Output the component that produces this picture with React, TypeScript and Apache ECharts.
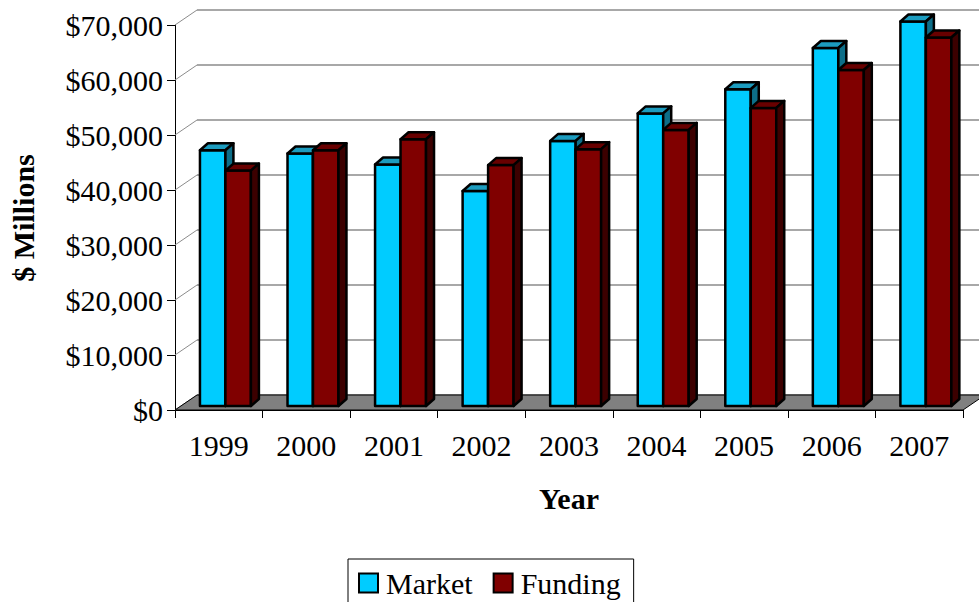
import React, { useEffect, useRef } from "react";
import * as echarts from "echarts";

const years = ["1999", "2000", "2001", "2002", "2003", "2004", "2005", "2006", "2007"];
const market = [46500, 45900, 43900, 39100, 48200, 53200, 57600, 65100, 69900];
const funding = [42800, 46500, 48500, 43800, 46700, 50200, 54200, 61100, 67000];
const yTicks = [0, 10000, 20000, 30000, 40000, 50000, 60000, 70000];

const FONT = "Liberation Serif";

// depth offsets (px)
const WALL_DX = 22;
const WALL_DY = -15;
const BAR_DX = 8;
const BAR_DY = -7;
const BAR_SHIFT_Y = -4;

function makeBarRender(offFrac: number, widthFrac: number, front: string, top: string, side: string) {
  return (params: any, api: any) => {
    const idx = api.value(0);
    const v = api.value(1);
    const p = api.coord([idx, v]);
    const b = api.coord([idx, 0]);
    const band = api.size([1, 0])[0];
    const left = b[0] - band / 2 + band * offFrac;
    const w = band * widthFrac;
    const yb = b[1] + BAR_SHIFT_Y;
    const yt = p[1] + BAR_SHIFT_Y;
    const st = { stroke: "#000", lineWidth: 2.5, lineJoin: "round" };
    return {
      type: "group",
      children: [
        {
          type: "polygon",
          shape: { points: [[left, yt], [left + w, yt], [left + w, yb], [left, yb]] },
          style: { fill: front, ...st },
        },
        {
          type: "polygon",
          shape: {
            points: [
              [left, yt],
              [left + BAR_DX, yt + BAR_DY],
              [left + w + BAR_DX, yt + BAR_DY],
              [left + w, yt],
            ],
          },
          style: { fill: top, ...st },
        },
        {
          type: "polygon",
          shape: {
            points: [
              [left + w, yt],
              [left + w + BAR_DX, yt + BAR_DY],
              [left + w + BAR_DX, yb + BAR_DY],
              [left + w, yb],
            ],
          },
          style: { fill: side, ...st },
        },
      ],
    };
  };
}

export default function App() {
  const ref = useRef<HTMLDivElement>(null);
  useEffect(() => {
    if (!ref.current) return;
    const chart = echarts.init(ref.current, null, { renderer: "svg" });
    const n = years.length;
    const option: any = {
      animation: false,
      backgroundColor: "#fff",
      grid: { left: 175, right: 16, top: 25, bottom: 192, containLabel: false },
      xAxis: {
        type: "category",
        data: years,
        boundaryGap: true,
        axisLine: { show: true, lineStyle: { color: "#000", width: 1 } },
        axisTick: { show: true, length: 8, alignWithLabel: false, lineStyle: { color: "#000" } },
        axisLabel: { fontSize: 30, fontFamily: FONT, color: "#000", margin: 20 },
        splitLine: { show: false },
      },
      yAxis: {
        type: "value",
        min: 0,
        max: 70000,
        interval: 10000,
        axisLine: { show: true, lineStyle: { color: "#000", width: 1 } },
        axisTick: { show: true, length: 8, lineStyle: { color: "#000" } },
        axisLabel: {
          fontSize: 30,
          fontFamily: FONT,
          color: "#000",
          margin: 12,
          formatter: (v: number) => "$" + v.toLocaleString("en-US"),
        },
        splitLine: { show: false },
      },
      legend: {
        data: [
          { name: "Market", itemStyle: { color: "#00CCFF", borderColor: "#000", borderWidth: 2 } },
          { name: "Funding", itemStyle: { color: "#800000", borderColor: "#000", borderWidth: 2 } },
        ],
        left: 348,
        top: 559,
        orient: "horizontal",
        icon: "rect",
        itemWidth: 19,
        itemHeight: 19,
        itemGap: 20,
        padding: [9, 13, 20, 10],
        borderColor: "#000",
        borderWidth: 1,
        textStyle: { fontSize: 30, fontFamily: FONT, color: "#000", padding: [0, 0, 0, 3] },
      },
      graphic: [
        {
          type: "text",
          x: 23,
          y: 218,
          rotation: Math.PI / 2,
          style: {
            text: "$ Millions",
            fontSize: 30,
            fontWeight: "bold",
            fontFamily: FONT,
            fill: "#000",
            textAlign: "center",
            textVerticalAlign: "middle",
          },
        },
        {
          type: "text",
          x: 569,
          y: 498,
          style: {
            text: "Year",
            fontSize: 30,
            fontWeight: "bold",
            fontFamily: FONT,
            fill: "#000",
            textAlign: "center",
            textVerticalAlign: "middle",
          },
        },
      ],
      series: [
        {
          name: "walls",
          type: "custom",
          z: 1,
          clip: false,
          silent: true,
          data: yTicks.map((v) => [0, v]),
          encode: { x: 0, y: 1 },
          renderItem: (params: any, api: any) => {
            const v = api.value(1);
            const band = api.size([1, 0])[0];
            const p0 = api.coord([0, v]);
            const p1 = api.coord([n - 1, v]);
            const x0 = p0[0] - band / 2;
            const x1 = p1[0] + band / 2;
            const y = p0[1];
            return {
              type: "group",
              children: [
                {
                  type: "line",
                  shape: { x1: x0 + WALL_DX, y1: y + WALL_DY, x2: x1 + WALL_DX, y2: y + WALL_DY },
                  style: { stroke: "#a8a8a8", lineWidth: 2 },
                },
                {
                  type: "line",
                  shape: { x1: x0, y1: y, x2: x0 + WALL_DX, y2: y + WALL_DY },
                  style: { stroke: "#8c8c8c", lineWidth: 1 },
                },
              ],
            };
          },
        },
        {
          name: "floor",
          type: "custom",
          z: 2,
          clip: false,
          silent: true,
          data: [[0, 0]],
          encode: { x: 0, y: 1 },
          renderItem: (params: any, api: any) => {
            const band = api.size([1, 0])[0];
            const p0 = api.coord([0, 0]);
            const p1 = api.coord([n - 1, 0]);
            const x0 = p0[0] - band / 2;
            const x1 = p1[0] + band / 2;
            const y = p0[1];
            return {
              type: "polygon",
              shape: {
                points: [
                  [x0, y],
                  [x1, y],
                  [x1 + WALL_DX, y + WALL_DY],
                  [x0 + WALL_DX, y + WALL_DY],
                ],
              },
              style: { fill: "#808080", stroke: "#000", lineWidth: 1 },
            };
          },
        },
        {
          name: "Market",
          type: "custom",
          z: 3,
          clip: false,
          itemStyle: { color: "#00CCFF", borderColor: "#000", borderWidth: 2 },
          data: market.map((v, i) => [i, v]),
          encode: { x: 0, y: 1 },
          renderItem: makeBarRender(0.285, 0.291, "#00CCFF", "#1c9cbf", "#0d6e88"),
        },
        {
          name: "Funding",
          type: "custom",
          z: 4,
          clip: false,
          itemStyle: { color: "#800000", borderColor: "#000", borderWidth: 2 },
          data: funding.map((v, i) => [i, v]),
          encode: { x: 0, y: 1 },
          renderItem: makeBarRender(0.285 + 0.291, 0.291, "#800000", "#680000", "#3c0000"),
        },
      ],
    };
    chart.setOption(option);
    return () => chart.dispose();
  }, []);
  return (
    <div
      ref={ref}
      style={{ position: "fixed", left: 0, top: 0, width: 979, height: 602, background: "#fff" }}
    />
  );
}
